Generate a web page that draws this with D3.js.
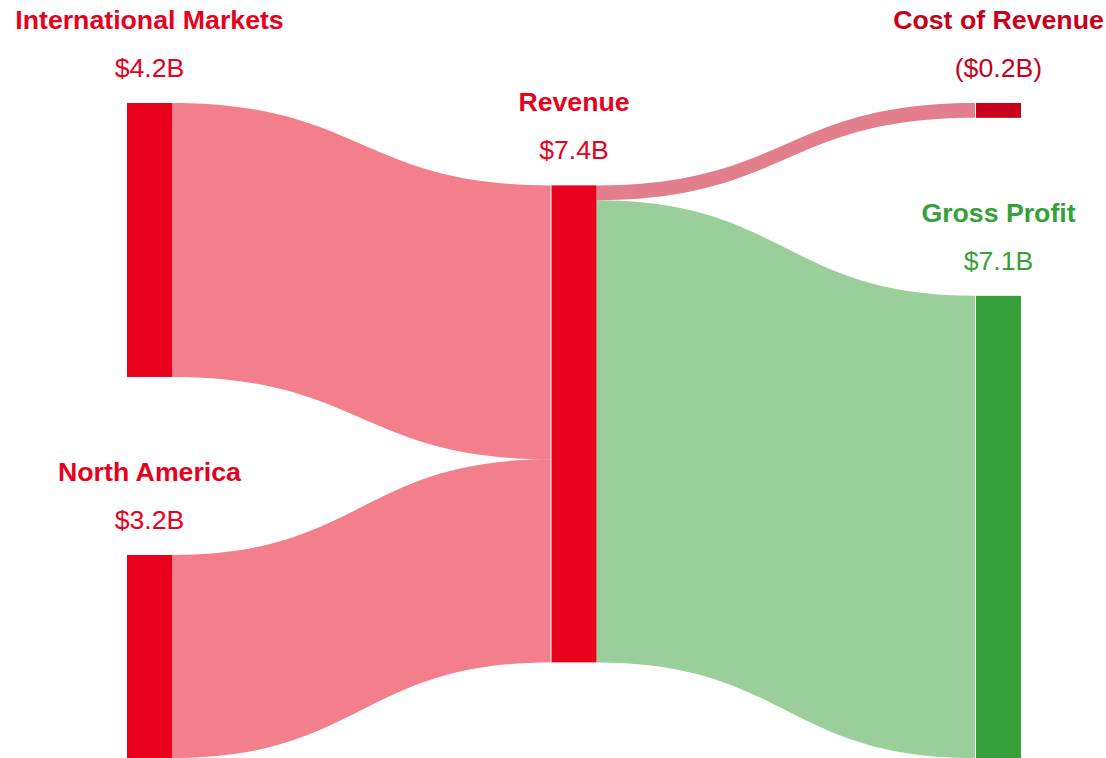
<!DOCTYPE html>
<html>
<head>
<meta charset="utf-8">
<script src="https://cdn.jsdelivr.net/npm/d3@7"></script>
<style>
  html, body { margin: 0; padding: 0; background: #fff; }
  svg { display: block; }
</style>
</head>
<body>
<div id="chart"></div>
<script>
// data
const nodeNames = ["International Markets", "North America", "Revenue", "Cost of Revenue", "Gross Profit"];
const nodeColumns = [0, 0, 1, 2, 2];
const nodeValues = [4.25, 3.15, 7.4, 0.23, 7.17];
const valueLabels = ["$4.2B", "$3.2B", "$7.4B", "($0.2B)", "$7.1B"];
const nodeColors = ["#e8001c", "#e8001c", "#e8001c", "#c8001a", "#36a03a"];

const linkSources = [0, 1, 2, 2];
const linkTargets = [2, 2, 3, 4];
const linkValues = [4.25, 3.15, 0.23, 7.17];

const width = 1106, height = 758;
const margin = { top: 103, right: 85, bottom: 0, left: 127 };
const nodeWidth = 45;
const nodePadding = 178;
const innerHeight = height - margin.top - margin.bottom;

const svg = d3.select("#chart").append("svg")
    .attr("width", width)
    .attr("height", height);

const nodes = nodeNames.map((name, i) => ({
    name, col: nodeColumns[i], value: nodeValues[i], label: valueLabels[i], color: nodeColors[i],
    inLinks: [], outLinks: []
}));
const links = linkSources.map((s, i) => ({ source: nodes[s], target: nodes[linkTargets[i]], value: linkValues[i] }));
links.forEach(l => { l.source.outLinks.push(l); l.target.inLinks.push(l); });

// columns
const cols = d3.groups(nodes, d => d.col).sort((a, b) => a[0] - b[0]).map(d => d[1]);
const x = d3.scaleLinear().domain([0, cols.length - 1]).range([margin.left, width - margin.right - nodeWidth]);

// value -> pixel scale, fit the fullest column
const k = d3.min(cols, c => (innerHeight - (c.length - 1) * nodePadding) / d3.sum(c, d => d.value));
const y = d3.scaleLinear().domain([0, 1]).range([0, k]);

nodes.forEach(n => { n.x0 = x(n.col); n.x1 = n.x0 + nodeWidth; n.h = y(n.value); });

// stacked columns
cols.forEach(c => {
    if (c.length > 1) {
        let y0 = margin.top;
        c.forEach(n => { n.y0 = y0; n.y1 = y0 + n.h; y0 = n.y1 + nodePadding; });
    }
});

// link offsets on the source side
nodes.forEach(n => {
    let off = 0;
    n.outLinks.forEach(l => { l.sOff = off; off += y(l.value); });
    off = 0;
    n.inLinks.forEach(l => { l.tOff = off; off += y(l.value); });
});

// single-node columns: between centered and aligned with incoming links
cols.forEach(c => {
    if (c.length === 1) {
        const n = c[0];
        const centered = margin.top + (innerHeight - n.h) / 2;
        const aligned = d3.sum(n.inLinks, l => l.value * (l.source.y0 + l.sOff - l.tOff)) / d3.sum(n.inLinks, l => l.value);
        n.y0 = (centered + aligned) / 2;
        n.y1 = n.y0 + n.h;
    }
});

// links as filled bands
function band(l) {
    const sx = l.source.x1, tx = l.target.x0 - 1;
    const sy0 = l.source.y0 + l.sOff, sy1 = sy0 + y(l.value);
    const ty0 = l.target.y0 + l.tOff, ty1 = ty0 + y(l.value);
    const mx = (sx + tx) / 2;
    const p = d3.path();
    p.moveTo(sx, sy0);
    p.bezierCurveTo(mx, sy0, mx, ty0, tx, ty0);
    p.lineTo(tx, ty1);
    p.bezierCurveTo(mx, ty1, mx, sy1, sx, sy1);
    p.closePath();
    return p.toString();
}

svg.append("g").selectAll("path")
    .data(links)
    .join("path")
    .attr("d", band)
    .attr("fill", d => d.target.color)
    .attr("fill-opacity", 0.5);

svg.append("g").selectAll("rect")
    .data(nodes)
    .join("rect")
    .attr("x", d => d.x0)
    .attr("y", d => d.y0)
    .attr("width", nodeWidth)
    .attr("height", d => d.y1 - d.y0)
    .attr("fill", d => d.color);

// labels above nodes
const labels = svg.append("g")
    .attr("font-family", "'Liberation Sans', Arial, sans-serif")
    .attr("font-size", "26.7px")
    .attr("text-anchor", "middle");

labels.selectAll("text.name")
    .data(nodes)
    .join("text")
    .attr("class", "name")
    .attr("x", d => (d.x0 + d.x1) / 2)
    .attr("y", d => d.y0 - 74)
    .attr("font-weight", "bold")
    .attr("fill", d => d.color)
    .text(d => d.name);

labels.selectAll("text.val")
    .data(nodes)
    .join("text")
    .attr("class", "val")
    .attr("x", d => (d.x0 + d.x1) / 2)
    .attr("y", d => d.y0 - 26)
    .attr("fill", d => d.color)
    .text(d => d.label);
</script>
</body>
</html>
